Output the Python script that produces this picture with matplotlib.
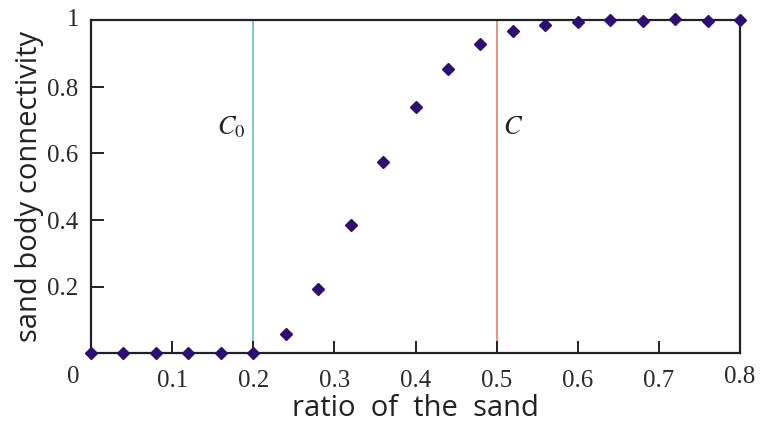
import matplotlib.pyplot as plt
from matplotlib.ticker import FixedLocator

# data
ratio = [0.0, 0.04, 0.08, 0.12, 0.16, 0.20, 0.24, 0.28, 0.32, 0.36, 0.40,
         0.44, 0.48, 0.52, 0.56, 0.60, 0.64, 0.68, 0.72, 0.76, 0.80]
connectivity = [0.0, 0.0, 0.0, 0.0, 0.0, 0.0, 0.056, 0.193, 0.385, 0.575, 0.74,
                0.854, 0.929, 0.967, 0.986, 0.994, 1.0, 0.998, 1.004, 0.999, 1.0]
c0_value = 0.2
c_value = 0.5
x_ticks = [0.1, 0.2, 0.3, 0.4, 0.5, 0.6, 0.7]
y_ticks = [0.2, 0.4, 0.6, 0.8]

fig = plt.figure(figsize=(7.61, 4.23), dpi=100)
ax = fig.add_axes([91 / 761, (423 - 353) / 423, (740 - 91) / 761, (353 - 20.5) / 423])

ax.axvline(c0_value, color='#7ccdb6', lw=1.4, zorder=1)
ax.axvline(c_value, color='#e8937a', lw=1.4, zorder=1)
ax.plot(ratio, connectivity, 'D', color='#2d0e72', ms=6.2, mec='#2d0e72',
        clip_on=False, zorder=3)

ax.set_xlim(0, 0.8)
ax.set_ylim(0, 1)
for s in ax.spines.values():
    s.set_linewidth(1.6)
    s.set_color('#222222')

ax.xaxis.set_major_locator(FixedLocator(x_ticks))
ax.yaxis.set_major_locator(FixedLocator(y_ticks))
ax.tick_params(direction='in', length=9, width=1.4, color='#222222',
               labelsize=18, pad=9)
ax.tick_params(axis='x', pad=12)
ax.set_xticklabels([f'{t:g}' for t in x_ticks], family='Liberation Serif', color='#2a2a2a')
ax.set_yticklabels([f'{t:g}' for t in y_ticks], family='Liberation Serif', color='#2a2a2a')

# corner labels
serif = dict(family='Liberation Serif', fontsize=18, color='#2a2a2a')
ax.text(-0.022, -0.04, '0', ha='center', va='top', **serif)
ax.text(0.8, -0.04, '0.8', ha='center', va='top', **serif)
ax.text(-0.014, 1.0, '1', ha='right', va='center', **serif)

ax.text(0.19, 0.68, r'$C_0$', ha='right', va='center', fontsize=19,
        color='#222222', math_fontfamily='stix')
ax.text(0.508, 0.68, r'$C$', ha='left', va='center', fontsize=19,
        color='#222222', math_fontfamily='stix')

ax.set_xlabel('ratio  of  the  sand', family='Open Sans', fontsize=21,
              color='#222222', labelpad=2)
ax.set_ylabel('sand body connectivity', family='Open Sans', fontsize=21,
              color='#222222', labelpad=2.5)

fig.savefig('out.png', dpi=100)
